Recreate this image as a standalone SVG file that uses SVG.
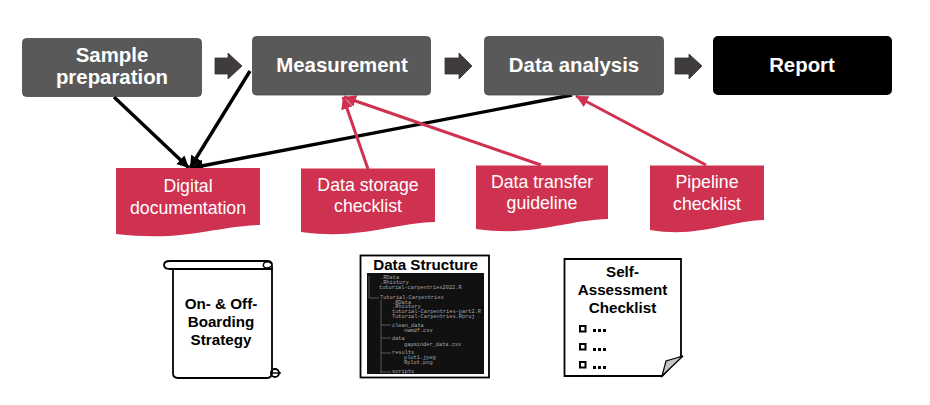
<svg xmlns="http://www.w3.org/2000/svg" width="930" height="405" viewBox="0 0 930 405">
<style>
text{font-family:"Liberation Sans",Arial,sans-serif;text-anchor:middle}
.step{fill:#595959;stroke:#484848;stroke-width:.8}
.st{fill:#fff;font-weight:bold;font-size:20.4px}
.doc{fill:#cf3250}
.dt{fill:#fff;font-size:17.7px}
.bk{fill:#000;font-weight:bold;font-size:15.2px}
.arr{fill:#403c3c;stroke:#333;stroke-width:.8}
.k{stroke:#000;stroke-width:3.4;fill:none;marker-end:url(#ka)}
.r{stroke:#cf3250;stroke-width:3;fill:none;marker-end:url(#ra)}
.o{fill:#fff;stroke:#000;stroke-width:1.8}
.code{fill:#a8a8a8;font-family:"Liberation Mono",monospace;font-size:5.3px;text-anchor:start}
</style>
<defs>
<marker id="ka" markerUnits="userSpaceOnUse" markerWidth="14" markerHeight="14" refX="12" refY="6" orient="auto"><path d="M0 0L12 6L0 12z" fill="#000"/></marker>
<marker id="ra" markerUnits="userSpaceOnUse" markerWidth="14" markerHeight="14" refX="12" refY="6" orient="auto"><path d="M0 0L12 6L0 12z" fill="#cf3250"/></marker>
</defs>
<rect width="930" height="405" fill="#fff"/>
<g id="connectors">
<path class="k" d="M114 97L189 168"/>
<path class="k" d="M250 71L190 168"/>
<path class="k" d="M572 95L191 168"/>
<path class="r" d="M368 169L343 97"/>
<path class="r" d="M541 165L344 97"/>
<path class="r" d="M706 165L576 96"/>
</g>
<g id="flow-arrows">
<path class="arr" d="M215 58H228V53L242 66L228 79V74H215z"/>
<path class="arr" d="M445 58H459V53L472 66L459 79V74H445z"/>
<path class="arr" d="M675 58H689V54L702 66L689 79V74H675z"/>
</g>
<g id="sample"><rect class="step" x="22.500" y="38.500" width="179" height="58" rx="4"/><text class="st" x="112" y="62">Sample</text><text class="st" x="112" y="84">preparation</text></g>
<g id="measurement"><rect class="step" x="252.500" y="36.500" width="178" height="58.500" rx="4"/><text class="st" x="342" y="71.500">Measurement</text></g>
<g id="analysis"><rect class="step" x="484.500" y="36.500" width="179" height="58.500" rx="4"/><text class="st" x="574" y="71.500">Data analysis</text></g>
<g id="report"><rect x="713" y="36" width="179" height="59" rx="5" fill="#000"/><text class="st" x="802" y="71.500">Report</text></g>
<g id="digital"><path class="doc" d="M116 168H260V225C215 226 185 242 116 234z"/><text class="dt" x="188" y="192">Digital</text><text class="dt" x="188" y="214">documentation</text></g>
<g id="storage"><path class="doc" d="M301 168.500H435V222C392 223 362 240 301 232z"/><text class="dt" x="368" y="191">Data storage</text><text class="dt" x="368" y="212">checklist</text></g>
<g id="transfer"><path class="doc" d="M476 165.500H608V219C565 220 535 237 476 229z"/><text class="dt" x="542" y="188">Data transfer</text><text class="dt" x="542" y="209">guideline</text></g>
<g id="pipeline"><path class="doc" d="M650 165.500H764V220C727 221 700 238 650 230z"/><text class="dt" x="707" y="188">Pipeline</text><text class="dt" x="707" y="210">checklist</text></g>
<g id="scroll">
<path class="o" d="M173 269H272V372Q272 378 267 378H178Q173 378 173 373z"/>
<path class="o" d="M170 261H267Q272 261 272 265V269H170Q164 269 164 265Q164 261 170 261z"/>
<path d="M272 264Q268 260 264 263Q262 267 266 268Q270 268 271 266" fill="none" stroke="#000" stroke-width="1.500"/>
<circle cx="275" cy="373" r="4" fill="none" stroke="#000" stroke-width="1.800"/><path d="M270 373H281" stroke="#000" stroke-width="1.400"/>
<text class="bk" x="221" y="309">On- &amp; Off-</text><text class="bk" x="221" y="327">Boarding</text><text class="bk" x="221" y="345">Strategy</text>
</g>
<g id="structure">
<rect x="360.500" y="255.500" width="128.500" height="122" fill="#fff" stroke="#000" stroke-width="1.800"/>
<text x="425.500" y="270" style="font-weight:bold;font-size:15.200px" fill="#000">Data Structure</text>
<rect x="367" y="273" width="117" height="101" fill="#111"/>
<path d="M369 276V298H379M381 300V373M381 325H391M381 338H391M381 353H391M381 372H391" stroke="#777" fill="none" stroke-width=".7"/>
<text class="code" x="380" y="279">.RData</text><text class="code" x="380" y="284">.Rhistory</text><text class="code" x="379" y="289">tutorial-carpentries2022.R</text>
<text class="code" x="380" y="299">Tutorial-Carpentries</text><text class="code" x="392" y="303.500">.RData</text><text class="code" x="392" y="308">.Rhistory</text><text class="code" x="392" y="313">tutorial-Carpentries-part2.R</text><text class="code" x="392" y="318">Tutorial-Carpentries.Rproj</text>
<text class="code" x="392" y="327">clean_data</text><text class="code" x="404" y="331.500">nwmdf.csv</text><text class="code" x="392" y="340">data</text><text class="code" x="404" y="346">gapminder_data.csv</text>
<text class="code" x="392" y="354">results</text><text class="code" x="404" y="359">plot1.jpeg</text><text class="code" x="404" y="364">Rplot.png</text><text class="code" x="392" y="373">scripts</text>
</g>
<g id="checklist">
<path class="o" d="M564.500 259H681V356L662 376H564.500z"/>
<path d="M662 376L666 361L683 356z" fill="#c4c4c4" stroke="#000" stroke-width="1.200"/>
<text class="bk" x="622.500" y="277">Self-</text><text class="bk" x="622.500" y="295">Assessment</text><text class="bk" x="622.500" y="313">Checklist</text>
<g fill="none" stroke="#000" stroke-width="2"><rect x="580" y="326" width="5.500" height="5.500"/><rect x="580" y="344" width="5.500" height="5.500"/><rect x="580" y="362" width="5.500" height="5.500"/></g>
<path fill="#000" d="M593 329h3v3h-3zM598 329h3v3h-3zM603 329h3v3h-3zM593 348h3v3h-3zM598 348h3v3h-3zM603 348h3v3h-3zM593 366h3v3h-3zM598 366h3v3h-3zM603 366h3v3h-3z"/>
</g>
</svg>
